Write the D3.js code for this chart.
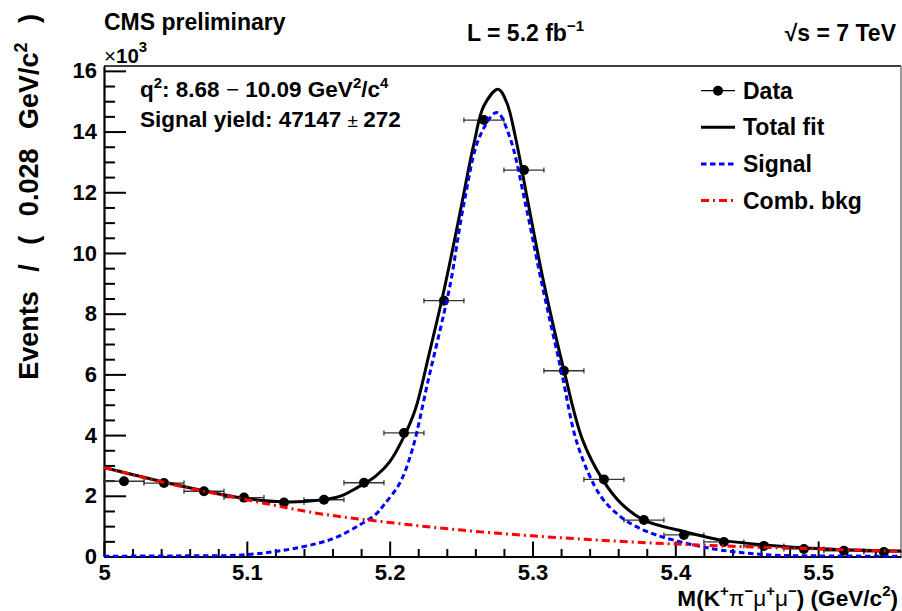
<!DOCTYPE html>
<html><head><meta charset="utf-8">
<script src="https://cdn.jsdelivr.net/npm/d3@7"></script>
<style>
body{margin:0;background:#fff}
svg text{font-family:"Liberation Sans",Arial,Helvetica,sans-serif;font-weight:bold;fill:#000}
</style>
</head><body>
<svg id="c" width="902" height="611"></svg>
<script>
// ---- data (values in units of 10^3 events per 0.028 GeV/c^2) ----
const binCenters = [5.014,5.042,5.070,5.098,5.126,5.154,5.182,5.210,5.238,5.266,5.294,5.322,5.350,5.378,5.406,5.434,5.462,5.490,5.518,5.546];
const dataCounts = [2.48,2.42,2.15,1.94,1.78,1.87,2.43,4.07,8.43,14.38,12.73,6.12,2.54,1.20,0.71,0.48,0.35,0.25,0.19,0.15];
const binHalfWidth = 0.014;

const totalMass = [5.000,5.044,5.091,5.126,5.150,5.165,5.177,5.190,5.200,5.210,5.218,5.228,5.237,5.244,5.250,5.259,5.266,5.276,5.282,5.288,5.297,5.308,5.322,5.335,5.349,5.362,5.378,5.408,5.432,5.478,5.520,5.558];
const totalVals = [2.93,2.43,1.97,1.80,1.85,1.98,2.26,2.64,3.12,3.95,4.85,6.75,8.55,10.1,11.5,13.6,14.85,15.39,14.95,13.83,11.63,9.00,6.14,3.85,2.54,1.75,1.20,0.80,0.54,0.32,0.22,0.18];

const sigMass = [5.000,5.050,5.100,5.137,5.161,5.179,5.191,5.196,5.207,5.216,5.227,5.238,5.243,5.252,5.263,5.275,5.284,5.295,5.306,5.320,5.332,5.348,5.362,5.372,5.386,5.408,5.432,5.467,5.500,5.558];
const sigVals = [0.01,0.02,0.06,0.30,0.60,1.04,1.42,1.70,2.41,3.55,5.81,8.01,9.11,11.63,13.83,14.63,13.83,11.63,9.11,6.14,3.62,1.97,1.30,1.00,0.72,0.43,0.21,0.05,0.02,0.01];

const bkgMass = [5.00,5.05,5.10,5.15,5.20,5.25,5.30,5.35,5.40,5.45,5.50,5.558];
const bkgVals = [2.93,2.35,1.87,1.42,1.12,0.87,0.68,0.53,0.41,0.32,0.25,0.17];

const xMajorTicks = [5,5.1,5.2,5.3,5.4,5.5];
const xTickLabels = ["5","5.1","5.2","5.3","5.4","5.5"];
const yMajorTicks = [0,2,4,6,8,10,12,14,16];
const yTickLabels = ["0","2","4","6","8","10","12","14","16"];

const legendLabels = ["Data","Total fit","Signal","Comb. bkg"];

// ---- layout ----
const L = 104, R = 901, T = 66, B = 556.5;
const svg = d3.select("#c");
const x = d3.scaleLinear().domain([5.0, 5.558]).range([L, R]);
const y = d3.scaleLinear().domain([0, 16.16]).range([B, T]);

// frame top/right
svg.append("line").attr("x1",L).attr("x2",R).attr("y1",T).attr("y2",T).attr("stroke","#000").attr("stroke-width",1.5);
svg.append("line").attr("x1",R).attr("x2",R).attr("y1",T).attr("y2",B).attr("stroke","#777").attr("stroke-width",1.5);

// x minor ticks
const xMinor = d3.range(0, 28).map(i => +(5 + i*0.02).toFixed(2)).filter(v => !xMajorTicks.some(m => Math.abs(m-v)<1e-6));
svg.append("g").attr("transform",`translate(0,${B})`)
  .call(d3.axisBottom(x).tickValues(xMinor).tickSize(-7.5).tickSizeOuter(0).tickFormat(""))
  .call(g=>g.select(".domain").remove())
  .call(g=>g.selectAll("line").attr("stroke-width",2));
// x major
const gx = svg.append("g").attr("transform",`translate(0,${B})`)
  .call(d3.axisBottom(x).tickValues(xMajorTicks).tickSize(-15).tickSizeOuter(0).tickPadding(8)
    .tickFormat((d,i)=>xTickLabels[i]));
gx.select(".domain").attr("stroke-width",2.2);
gx.selectAll("line").attr("stroke-width",2);
gx.selectAll("text").attr("font-size",22).attr("font-family","Liberation Sans, Arial, sans-serif").attr("font-weight","bold");

// y minor
const yMinor = d3.range(0, 33).map(i => i*0.5).filter(v => v % 2 !== 0 && v <= 16.16);
svg.append("g").attr("transform",`translate(${L},0)`)
  .call(d3.axisLeft(y).tickValues(yMinor).tickSize(-11).tickSizeOuter(0).tickFormat(""))
  .call(g=>g.select(".domain").remove())
  .call(g=>g.selectAll("line").attr("stroke-width",2));
const gy = svg.append("g").attr("transform",`translate(${L},0)`)
  .call(d3.axisLeft(y).tickValues(yMajorTicks).tickSize(-22).tickSizeOuter(0).tickPadding(7)
    .tickFormat((d,i)=>yTickLabels[i]));
gy.select(".domain").attr("stroke-width",2.2);
gy.selectAll("line").attr("stroke-width",2);
gy.selectAll("text").attr("font-size",22).attr("font-family","Liberation Sans, Arial, sans-serif").attr("font-weight","bold");

// ---- data points ----
const pts = binCenters.map((m,i)=>({m, v:dataCounts[i]}));
const gd = svg.append("g");
gd.selectAll("line.h").data(pts).enter().append("line")
  .attr("x1",d=>x(d.m-binHalfWidth)).attr("x2",d=>x(d.m+binHalfWidth))
  .attr("y1",d=>y(d.v)).attr("y2",d=>y(d.v)).attr("stroke","#333").attr("stroke-width",1.3);
gd.selectAll("line.c1").data(pts).enter().append("line")
  .attr("x1",d=>x(d.m-binHalfWidth)).attr("x2",d=>x(d.m-binHalfWidth))
  .attr("y1",d=>y(d.v)-2.5).attr("y2",d=>y(d.v)+2.5).attr("stroke","#333").attr("stroke-width",1.3);
gd.selectAll("line.c2").data(pts).enter().append("line")
  .attr("x1",d=>x(d.m+binHalfWidth)).attr("x2",d=>x(d.m+binHalfWidth))
  .attr("y1",d=>y(d.v)-2.5).attr("y2",d=>y(d.v)+2.5).attr("stroke","#333").attr("stroke-width",1.3);
gd.selectAll("circle").data(pts).enter().append("circle")
  .attr("cx",d=>x(d.m)).attr("cy",d=>y(d.v)).attr("r",5).attr("fill","#000");

// ---- curves ----
const line = d3.line().x(d=>x(d[0])).y(d=>y(d[1])).curve(d3.curveCatmullRom.alpha(0.5));
svg.append("path").datum(totalMass.map((m,i)=>[m,totalVals[i]])).attr("d",line)
  .attr("fill","none").attr("stroke","#000").attr("stroke-width",3);
svg.append("path").datum(sigMass.map((m,i)=>[m,sigVals[i]])).attr("d",line)
  .attr("fill","none").attr("stroke","#0000ff").attr("stroke-width",3).attr("stroke-dasharray","5.5,3.5");
svg.append("path").datum(bkgMass.map((m,i)=>[m,bkgVals[i]])).attr("d",line)
  .attr("fill","none").attr("stroke","#ff0000").attr("stroke-width",3).attr("stroke-dasharray","8,4,2,4");

// ---- legend ----
const lx0 = 701, lx1 = 735, ltx = 743;
const lys = [90.7, 127.3, 164, 200.5];
svg.append("line").attr("x1",lx0).attr("x2",lx1).attr("y1",lys[0]).attr("y2",lys[0]).attr("stroke","#000").attr("stroke-width",1.3);
svg.append("circle").attr("cx",(lx0+lx1)/2).attr("cy",lys[0]).attr("r",5).attr("fill","#000");
svg.append("line").attr("x1",lx0).attr("x2",lx1).attr("y1",lys[1]).attr("y2",lys[1]).attr("stroke","#000").attr("stroke-width",3);
svg.append("line").attr("x1",lx0).attr("x2",lx1).attr("y1",lys[2]).attr("y2",lys[2]).attr("stroke","#0000ff").attr("stroke-width",3).attr("stroke-dasharray","5.5,3.5");
svg.append("line").attr("x1",lx0).attr("x2",lx1).attr("y1",lys[3]).attr("y2",lys[3]).attr("stroke","#ff0000").attr("stroke-width",3).attr("stroke-dasharray","8,4,2,4");
legendLabels.forEach((t,i)=>{
  svg.append("text").attr("x",ltx).attr("y",lys[i]+8).attr("font-size",23).text(t);
});

// ---- texts ----
svg.append("text").attr("x",104).attr("y",29.5).attr("font-size",23).text("CMS preliminary");

const tL = svg.append("text").attr("x",467).attr("y",40.5).attr("font-size",23);
tL.append("tspan").text("L = 5.2 fb");
tL.append("tspan").attr("dy",-10).attr("font-size",15).text("−1");

svg.append("text").attr("x",896).attr("y",40.5).attr("font-size",23).attr("text-anchor","end").text("√s = 7 TeV");

const tx3 = svg.append("text").attr("x",104).attr("y",62.5).attr("font-size",20.5);
tx3.append("tspan").attr("font-weight","normal").text("×");
tx3.append("tspan").text("10");
tx3.append("tspan").attr("dy",-11).attr("font-size",15).text("3");

const tq = svg.append("text").attr("x",140).attr("y",97).attr("font-size",22.5);
tq.append("tspan").text("q");
tq.append("tspan").attr("dy",-9).attr("font-size",15).text("2");
tq.append("tspan").attr("dy",9).text(": 8.68 ");
tq.append("tspan").attr("font-weight","normal").text(" − ");
tq.append("tspan").text(" 10.09 GeV");
tq.append("tspan").attr("dy",-9).attr("font-size",15).text("2");
tq.append("tspan").attr("dy",9).text("/c");
tq.append("tspan").attr("dy",-9).attr("font-size",15).text("4");

const ts = svg.append("text").attr("x",140).attr("y",127).attr("font-size",22.5);
ts.append("tspan").text("Signal yield: 47147 ");
ts.append("tspan").attr("font-weight","normal").attr("font-size",19).text(" ± ");
ts.append("tspan").text(" 272");

// axis titles
const xt = svg.append("text").attr("x",898).attr("y",606).attr("font-size",22.6).attr("text-anchor","end");
xt.append("tspan").text("M(K");
xt.append("tspan").attr("dy",-10).attr("font-size",15).text("+");
xt.append("tspan").attr("dy",10).attr("font-weight","normal").text("π");
xt.append("tspan").attr("dy",-10).attr("font-size",15).text("−");
xt.append("tspan").attr("dy",10).attr("font-weight","normal").text("μ");
xt.append("tspan").attr("dy",-10).attr("font-size",15).text("+");
xt.append("tspan").attr("dy",10).attr("font-weight","normal").text("μ");
xt.append("tspan").attr("dy",-10).attr("font-size",15).text("−");
xt.append("tspan").attr("dy",10).text(") (GeV/c");
xt.append("tspan").attr("dy",-10).attr("font-size",15).text("2");
xt.append("tspan").attr("dy",10).text(")");

const yt = svg.append("text").attr("transform","translate(38,14) rotate(-90)").attr("font-size",27).attr("text-anchor","end").attr("word-spacing",12);
yt.append("tspan").text("Events / ( 0.028 GeV/c");
yt.append("tspan").attr("dy",-11).attr("font-size",18).text("2");
yt.append("tspan").attr("dy",11).text(" )");
</script>
</body></html>
